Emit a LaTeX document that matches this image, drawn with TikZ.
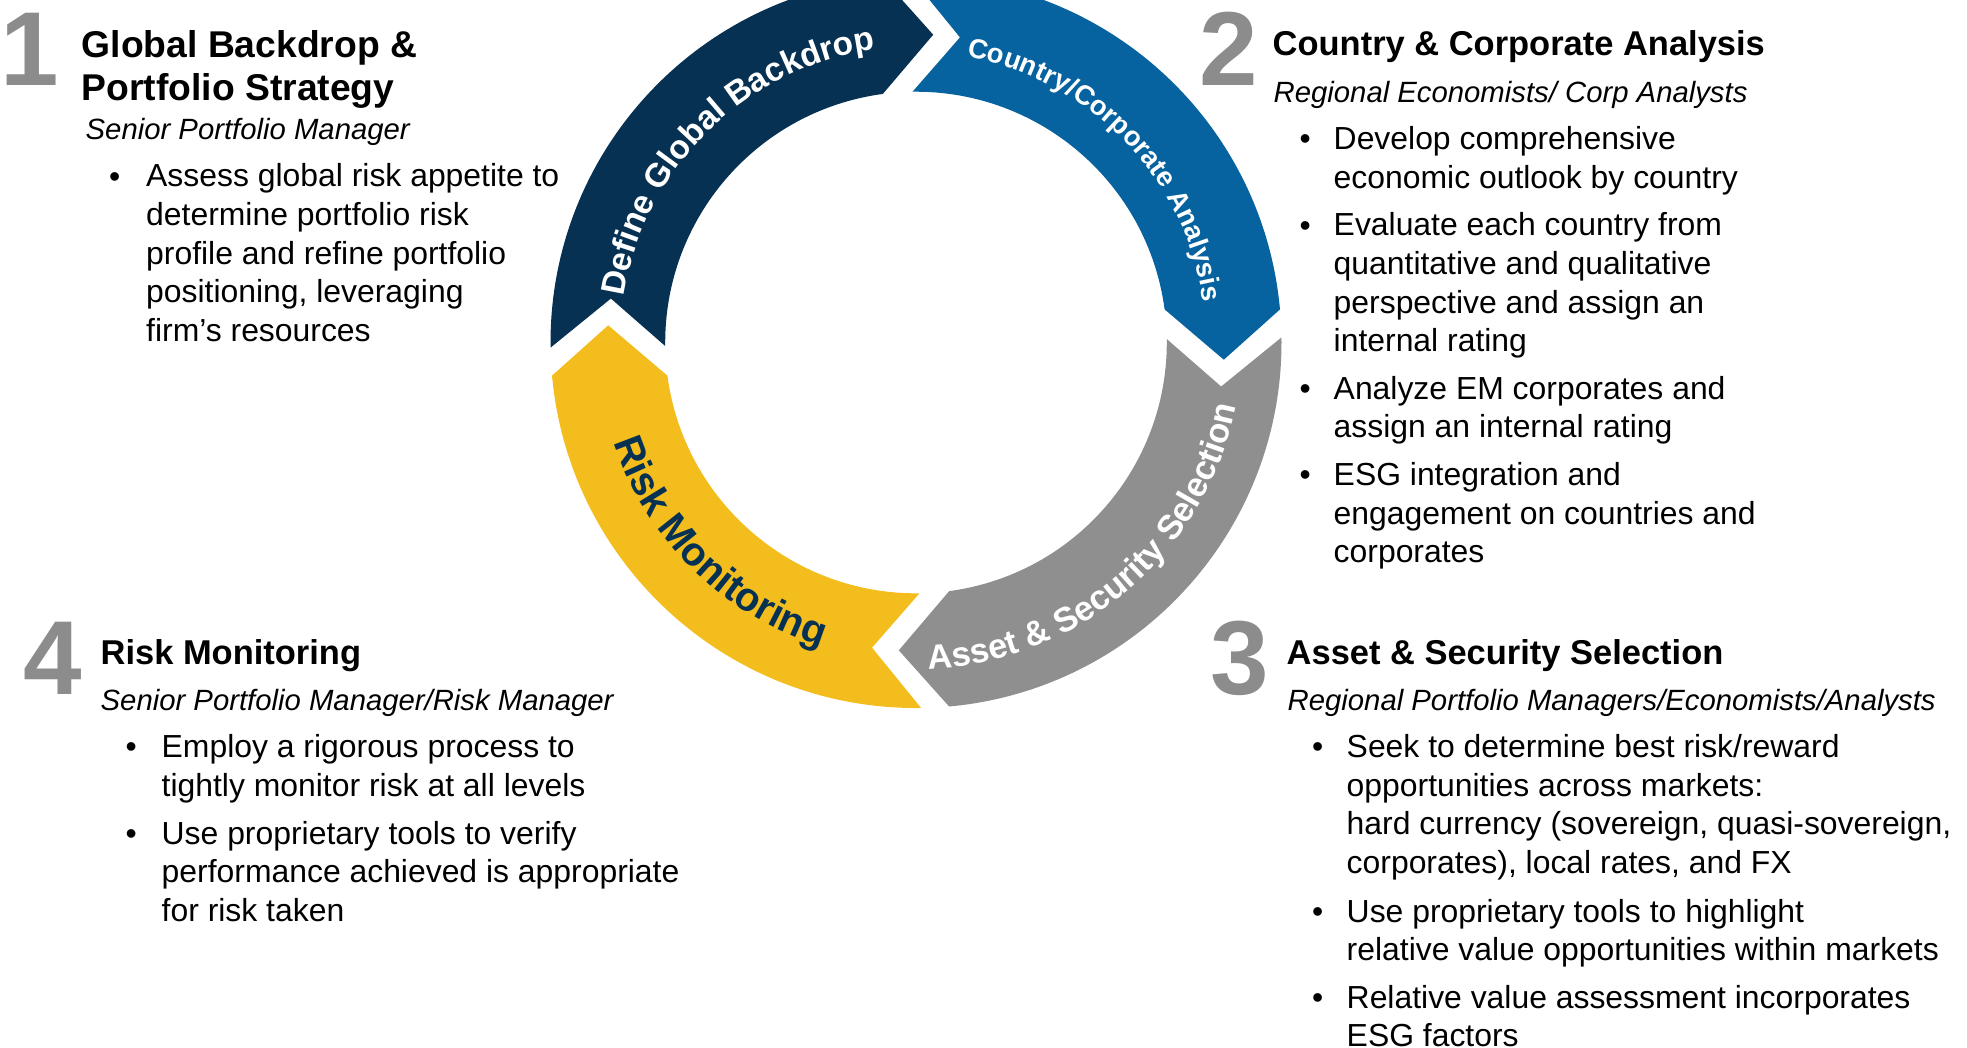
\documentclass[tikz,border=0pt]{standalone}
\usepackage{fontspec}
\setmainfont{Liberation Sans}
\usepackage{tikz}
\usetikzlibrary{decorations.text}
\definecolor{navyband}{RGB}{7, 49, 82}
\definecolor{blueband}{RGB}{6, 99, 159}
\definecolor{grayband}{RGB}{143, 143, 143}
\definecolor{goldband}{RGB}{244, 189, 30}
\definecolor{stepgray}{RGB}{140, 140, 140}

\begin{document}
\begin{tikzpicture}[
    x=0.01cm, y=0.01cm,
    num/.style={anchor=base west, inner sep=0pt, text=stepgray,
                font=\fontsize{29.9pt}{30pt}\selectfont\bfseries},
    head/.style={anchor=base west, inner sep=0pt, align=left,
                font=\fontsize{9.8pt}{12pt}\selectfont\bfseries},
    role/.style={anchor=base west, inner sep=0pt,
                font=\fontsize{8.33pt}{10pt}\selectfont\itshape},
    item/.style={anchor=base west, inner sep=0pt, align=left,
                font=\fontsize{9.07pt}{10.98pt}\selectfont},
    dot/.style={anchor=base west, inner sep=0pt,
                font=\fontsize{9.07pt}{10.98pt}\selectfont},
    ringtext/.style={decorate, decoration={text along path, text align=center}}
]
\useasboundingbox (0,0) rectangle (1967,-1047);
\clip (0,0) rectangle (1967,-1047);

\coordinate (hub) at (916,-342.5);

% ring of four arrows
\foreach \a/\col in {180.8/navyband, 90.8/blueband, 0.8/grayband, -89.2/goldband}
  \fill[\col] ([shift={(\a:365.5)}]hub) arc[start angle=\a, end angle=\a-85.6, radius=365.5]
    -- ([shift={(\a-94:308.3)}]hub) -- ([shift={(\a-83.2:250.8)}]hub)
    arc[start angle=\a-83.2, end angle=\a, radius=250.8]
    -- ([shift={(\a-9:308.3)}]hub) -- cycle;

\path[ringtext, decoration={text color=white,
    text={|\fontsize{9.5pt}{11pt}\selectfont\bfseries|Define Global Backdrop}}]
  ([shift={(179.5:296)}]hub) arc[start angle=179.5, end angle=89.5, radius=296];
\path[ringtext, decoration={text color=white,
    text={|\fontsize{7.8pt}{9pt}\selectfont\bfseries|Country/Corporate Analysis}}]
  ([shift={(89:290)}]hub) arc[start angle=89, end angle=-1, radius=290];
\path[ringtext, decoration={text color=white,
    text={|\fontsize{9.8pt}{11pt}\selectfont\bfseries|Asset {\&} Security Selection}}]
  ([shift={(-97:326.5)}]hub) arc[start angle=-97, end angle=-2, radius=326.5];
\path[ringtext, decoration={text color=navyband,
    text={|\fontsize{11.4pt}{13pt}\selectfont\bfseries|Risk Monitoring}}]
  ([shift={(190.5:318.5)}]hub) arc[start angle=190.5, end angle=260.5, radius=318.5];

% 1 (multi-line nodes sit on their last baseline)
\node[num] (n1) at (0,-85) {1};
\node[head, font=\fontsize{10.6pt}{12.15pt}\selectfont\bfseries] (t1) at (81,-100.7)
  {Global Backdrop \&\\Portfolio Strategy};
\node[role] (r1) at (85,-139) {Senior Portfolio Manager};
\node[dot] (d1a) at (108.5,-187) {\textbullet};
\node[item] (i1a) at (145.5,-341.4) {Assess global risk appetite to\\determine portfolio risk\\profile and refine portfolio\\positioning, leveraging\\firm’s resources};

% 2
\node[num] (n2) at (1199,-85) {2};
\node[head] (t2) at (1272,-55) {Country \& Corporate Analysis};
\node[role] (r2) at (1273,-102.5) {Regional Economists/ Corp Analysts};
\node[dot] (d2a) at (1299,-149.5) {\textbullet};
\node[item] (i2a) at (1333,-188.1) {Develop comprehensive\\economic outlook by country};
\node[dot] (d2b) at (1299,-236) {\textbullet};
\node[item] (i2b) at (1333,-351.8) {Evaluate each country from\\quantitative and qualitative\\perspective and assign an\\internal rating};
\node[dot] (d2c) at (1299,-399) {\textbullet};
\node[item] (i2c) at (1333,-437.6) {Analyze EM corporates and\\assign an internal rating};
\node[dot] (d2d) at (1299,-485.5) {\textbullet};
\node[item] (i2d) at (1333,-562.7) {ESG integration and\\engagement on countries and\\corporates};

% 3
\node[num] (n3) at (1210,-694) {3};
\node[head] (t3) at (1286,-664) {Asset \& Security Selection};
\node[role] (r3) at (1287,-710) {Regional Portfolio Managers/Economists/Analysts};
\node[dot] (d3a) at (1311.5,-757.5) {\textbullet};
\node[item] (i3a) at (1346,-873.3) {Seek to determine best risk/reward\\opportunities across markets:\\hard currency (sovereign, quasi-sovereign,\\corporates), local rates, and FX};
\node[dot] (d3b) at (1311.5,-922) {\textbullet};
\node[item] (i3b) at (1346,-960.6) {Use proprietary tools to highlight\\relative value opportunities within markets};
\node[dot] (d3c) at (1311.5,-1008) {\textbullet};
\node[item] (i3c) at (1346,-1046.6) {Relative value assessment incorporates\\ESG factors};

% 4
\node[num] (n4) at (23,-694) {4};
\node[head] (t4) at (100,-664) {Risk Monitoring};
\node[role] (r4) at (100,-710) {Senior Portfolio Manager/Risk Manager};
\node[dot] (d4a) at (125,-757.5) {\textbullet};
\node[item] (i4a) at (161,-796.1) {Employ a rigorous process to\\tightly monitor risk at all levels};
\node[dot] (d4b) at (125,-844) {\textbullet};
\node[item] (i4b) at (161,-921.2) {Use proprietary tools to verify\\performance achieved is appropriate\\for risk taken};
\end{tikzpicture}
\end{document}
